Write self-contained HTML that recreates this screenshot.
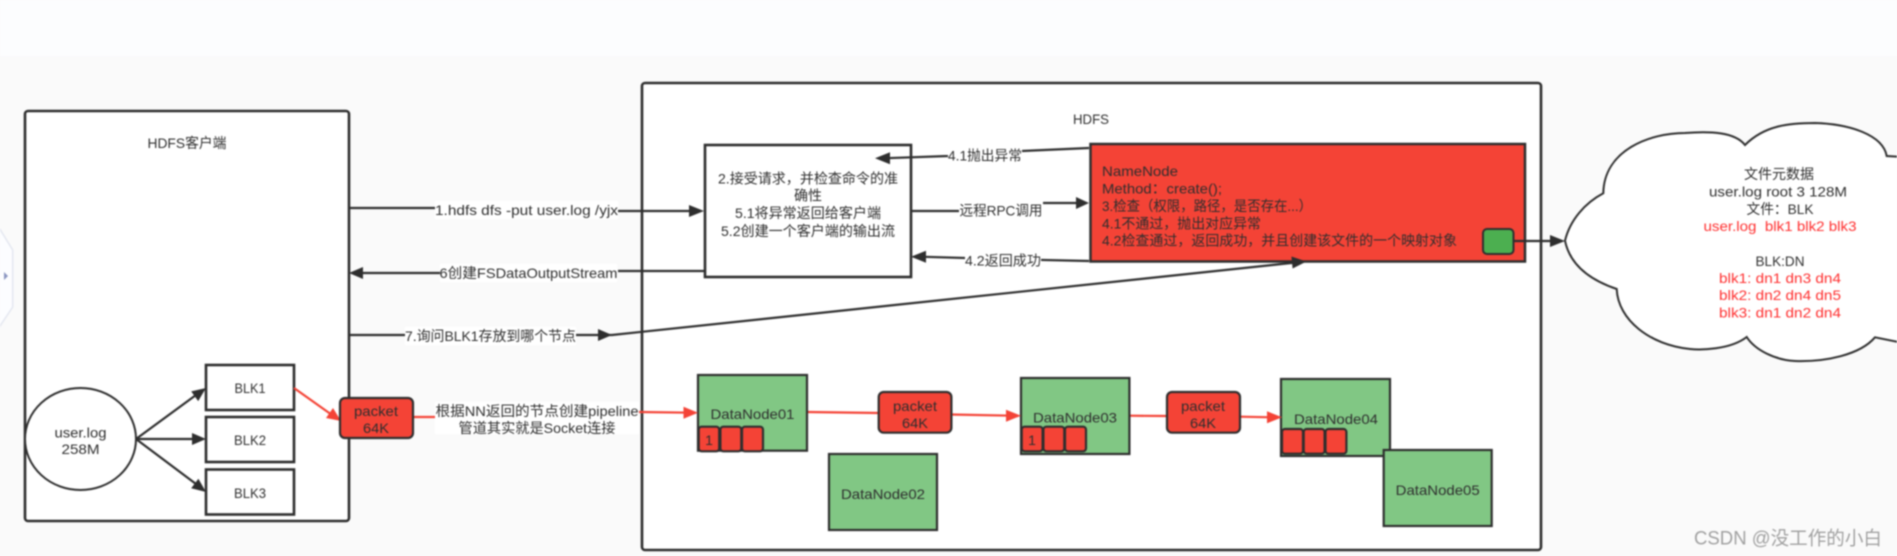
<!DOCTYPE html>
<html lang="zh">
<head>
<meta charset="utf-8">
<title>HDFS</title>
<style>
html,body{margin:0;padding:0;width:1897px;height:556px;overflow:hidden;background:#fafafa}
svg{display:block;position:absolute;left:0;top:0;filter:blur(0.7px)}
text{font-family:"Liberation Sans","Noto Sans CJK SC",sans-serif;font-size:14px;fill:#2e2e2e}
.m{text-anchor:middle}
.r{fill:#ff3030}
.box{stroke:#2e2e2e;stroke-width:2.6}
.l{stroke:#2e2e2e;stroke-width:2.2;fill:none}
.lr{stroke:#f44336;stroke-width:2.2;fill:none}
.ah{fill:#2e2e2e}
.ar{fill:#f44336}
.g{fill:#81c784;stroke:#2e2e2e;stroke-width:2.2}
.p{fill:#f44336;stroke:#2e2e2e;stroke-width:2.2}
.w{fill:#fff}
</style>
</head>
<body>
<svg width="1897" height="556" viewBox="0 0 1897 556" xmlns="http://www.w3.org/2000/svg">
<rect x="-5" y="-5" width="1907" height="566" fill="#fafafa"/>
<rect x="-5" y="-5" width="1907" height="61" fill="#fcfdfe"/>

<!-- side handle -->
<path d="M-2,226 L12.7,250 L12.7,307 L-2,329 Z" fill="#fcfdff" stroke="#e4e7f0" stroke-width="1.5"/>
<polygon points="4,272 8,276 4,280" fill="#8a95c0"/>

<!-- containers -->
<rect x="25" y="111" width="324" height="410" rx="3" fill="#fff" class="box"/>
<text x="187" y="148" class="m" textLength="79" lengthAdjust="spacingAndGlyphs">HDFS客户端</text>
<rect x="642" y="83" width="899" height="467" rx="3" fill="#fff" class="box"/>
<text x="1091" y="124" class="m" textLength="36" lengthAdjust="spacingAndGlyphs">HDFS</text>

<!-- cloud -->
<path d="M1565,240.7 C1570,220 1585,203 1603.3,193.3 C1604,150 1650,133 1685,133 C1710,131 1735,132 1745,145 C1765,125 1790,123 1815,123 C1850,124 1883,135 1886.7,156 L1903,157 L1903,343 L1875,337.3 C1860,355 1825,362 1795,361 C1775,360 1755,350 1746.7,337 C1730,350 1700,350 1690,349 C1650,345 1618,320 1616.7,289 C1590,280 1570,265 1565,240.7 Z" fill="#fff" stroke="#2e2e2e" stroke-width="2"/>
<text x="1779" y="179" class="m" textLength="70" lengthAdjust="spacingAndGlyphs">文件元数据</text>
<text x="1778" y="196.5" class="m" textLength="138" lengthAdjust="spacingAndGlyphs">user.log root 3 128M</text>
<text x="1780" y="214" class="m" textLength="67" lengthAdjust="spacingAndGlyphs">文件&#xFF1A;BLK</text>
<text x="1780" y="231" class="m r" textLength="153" lengthAdjust="spacingAndGlyphs">user.log&#160;&#160;blk1 blk2 blk3</text>
<text x="1780" y="266" class="m" textLength="49" lengthAdjust="spacingAndGlyphs">BLK:DN</text>
<text x="1780" y="283" class="m r" textLength="122" lengthAdjust="spacingAndGlyphs">blk1: dn1 dn3 dn4</text>
<text x="1780" y="300" class="m r" textLength="122" lengthAdjust="spacingAndGlyphs">blk2: dn2 dn4 dn5</text>
<text x="1780" y="317.5" class="m r" textLength="122" lengthAdjust="spacingAndGlyphs">blk3: dn1 dn2 dn4</text>

<!-- black connectors -->
<line x1="349" y1="208" x2="435" y2="208" class="l"/>
<line x1="618" y1="211" x2="692" y2="211" class="l"/>
<polygon points="704,211 689,205 689,217" class="ah"/>
<line x1="704" y1="271" x2="618" y2="271" class="l"/>
<line x1="440" y1="273" x2="360" y2="273" class="l"/>
<polygon points="349,273 363,267 363,279" class="ah"/>
<polyline points="349,335 612,335 1296,262.5" class="l"/>
<polygon points="612,335 598,329 598,341" class="ah"/>
<polyline points="911,211 1000,211 1000,203 1080,203" class="l"/>
<polygon points="1089,203 1076,197 1076,209" class="ah"/>
<polyline points="1089,261 1000,259 920,256.7" class="l"/>
<polygon points="911,256.7 926,250.7 926,262.7" class="ah"/>

<!-- box 2 -->
<rect x="705" y="145" width="206" height="132" fill="#fff" class="box"/>
<text x="808" y="183.5" class="m" textLength="180" lengthAdjust="spacingAndGlyphs">2.接受请求&#xFF0C;并检查命令的准</text>
<text x="808" y="200.5" class="m" textLength="28" lengthAdjust="spacingAndGlyphs">确性</text>
<text x="808" y="218" class="m" textLength="146" lengthAdjust="spacingAndGlyphs">5.1将异常返回给客户端</text>
<text x="808" y="236" class="m" textLength="174" lengthAdjust="spacingAndGlyphs">5.2创建一个客户端的输出流</text>

<!-- 4.1 arrow lands inside box 2 -->
<polyline points="1089,148 1000,152 948,156 883,158.3" class="l"/>
<polygon points="875,158.3 890,152.3 890,164.3" class="ah"/>

<!-- connector labels -->
<rect x="435" y="201" width="183" height="18" class="w"/>
<text x="526.5" y="215" class="m" textLength="183" lengthAdjust="spacingAndGlyphs">1.hdfs dfs -put user.log /yjx</text>
<rect x="440" y="264" width="177" height="18" class="w"/>
<text x="528.5" y="278" class="m" textLength="178" lengthAdjust="spacingAndGlyphs">6创建FSDataOutputStream</text>
<rect x="405" y="327" width="171" height="18" class="w"/>
<text x="490.5" y="341" class="m" textLength="171" lengthAdjust="spacingAndGlyphs">7.询问BLK1存放到哪个节点</text>
<rect x="948" y="147" width="74" height="18" class="w"/>
<text x="985" y="160.5" class="m" textLength="74" lengthAdjust="spacingAndGlyphs">4.1抛出异常</text>
<rect x="959" y="201" width="84" height="18" class="w"/>
<text x="1001" y="215.5" class="m" textLength="83" lengthAdjust="spacingAndGlyphs">远程RPC调用</text>
<rect x="965" y="252" width="76" height="18" class="w"/>
<text x="1003" y="265.5" class="m" textLength="76" lengthAdjust="spacingAndGlyphs">4.2返回成功</text>

<!-- NameNode -->
<rect x="1090.5" y="144" width="434.5" height="117.5" class="p" style="stroke-width:2.5"/>
<text x="1102" y="176" textLength="76" lengthAdjust="spacingAndGlyphs">NameNode</text>
<text x="1102" y="193.3" textLength="120" lengthAdjust="spacingAndGlyphs">Method&#xFF1A;create();</text>
<text x="1102" y="211" textLength="210" lengthAdjust="spacingAndGlyphs">3.检查&#xFF08;权限&#xFF0C;路径&#xFF0C;是否存在...&#xFF09;</text>
<text x="1102" y="228.3" textLength="159" lengthAdjust="spacingAndGlyphs">4.1不通过&#xFF0C;抛出对应异常</text>
<text x="1102" y="245.7" textLength="355" lengthAdjust="spacingAndGlyphs">4.2检查通过&#xFF0C;返回成功&#xFF0C;并且创建该文件的一个映射对象</text>
<rect x="1483" y="229" width="30.5" height="25" rx="4" fill="#4caf50" stroke="#2e2e2e" stroke-width="2"/>
<line x1="1513.5" y1="241" x2="1555" y2="241" class="l"/>
<polygon points="1565,241 1550,235 1550,247" class="ah"/>
<polygon points="1306.5,261.5 1291.4,256.5 1292.6,268.5" class="ah"/>

<!-- client contents -->
<ellipse cx="80.5" cy="439" rx="55.5" ry="51" fill="#fff" stroke="#2e2e2e" stroke-width="2"/>
<text x="80.5" y="437.5" class="m" textLength="52" lengthAdjust="spacingAndGlyphs">user.log</text>
<text x="80.5" y="454" class="m" textLength="38" lengthAdjust="spacingAndGlyphs">258M</text>
<rect x="206" y="365" width="88" height="45" fill="#fff" class="box"/>
<text x="250" y="393" class="m" textLength="31" lengthAdjust="spacingAndGlyphs">BLK1</text>
<rect x="206" y="417" width="88" height="45" fill="#fff" class="box"/>
<text x="250" y="445" class="m" textLength="32" lengthAdjust="spacingAndGlyphs">BLK2</text>
<rect x="206" y="469.5" width="88" height="45" fill="#fff" class="box"/>
<text x="250" y="498" class="m" textLength="32" lengthAdjust="spacingAndGlyphs">BLK3</text>
<line x1="136" y1="439" x2="196" y2="395" class="l"/>
<polygon points="206,388 198.2,401.1 191.2,391.4" class="ah"/>
<line x1="136" y1="439" x2="195" y2="439" class="l"/>
<polygon points="206,439 192,433 192,445" class="ah"/>
<line x1="136" y1="439" x2="196" y2="484" class="l"/>
<polygon points="206,492 191.2,488.3 198.4,478.7" class="ah"/>

<!-- red connectors -->
<line x1="294" y1="388" x2="332" y2="415" class="lr"/>
<polygon points="341,421 326,418 333,408" class="ar"/>
<line x1="413" y1="417" x2="436" y2="417" class="lr"/>
<rect x="435" y="402" width="204" height="32" class="w"/>
<text x="537" y="416" class="m" textLength="203" lengthAdjust="spacingAndGlyphs">根据NN返回的节点创建pipeline</text>
<text x="537" y="433" class="m" textLength="157" lengthAdjust="spacingAndGlyphs">管道其实就是Socket连接</text>
<line x1="639" y1="412" x2="690" y2="412.7" class="lr"/>
<line x1="807" y1="412" x2="879" y2="413" class="lr"/>
<line x1="951" y1="414.5" x2="1012" y2="415.7" class="lr"/>
<line x1="1129" y1="415.7" x2="1167" y2="416" class="lr"/>
<line x1="1240" y1="416.7" x2="1272" y2="417.3" class="lr"/>

<!-- packet 1 -->
<rect x="340" y="398" width="73" height="40" rx="5" class="p"/>
<text x="376" y="416" class="m" textLength="44" lengthAdjust="spacingAndGlyphs">packet</text>
<text x="376" y="433" class="m" textLength="26" lengthAdjust="spacingAndGlyphs">64K</text>

<!-- data nodes -->
<rect x="698" y="375" width="109" height="75.7" class="g"/>
<text x="752.5" y="419" class="m" textLength="84" lengthAdjust="spacingAndGlyphs">DataNode01</text>
<rect x="698.7" y="426.7" width="20.5" height="24.6" rx="3" class="p"/>
<rect x="720.4" y="426.7" width="20.9" height="24.6" rx="3" class="p"/>
<rect x="742" y="426.7" width="21" height="24.6" rx="3" class="p"/>
<text x="709" y="445" class="m">1</text>
<polygon points="698,412.7 683.5,406.7 683.5,418.7" class="ar"/>

<rect x="878.7" y="392" width="72.7" height="40.7" rx="5" class="p"/>
<text x="915" y="411" class="m" textLength="44" lengthAdjust="spacingAndGlyphs">packet</text>
<text x="915" y="428" class="m" textLength="26" lengthAdjust="spacingAndGlyphs">64K</text>

<rect x="1021" y="378" width="108.4" height="76" class="g"/>
<text x="1075" y="422.7" class="m" textLength="84" lengthAdjust="spacingAndGlyphs">DataNode03</text>
<rect x="1021.7" y="426.7" width="20.9" height="24.6" rx="3" class="p"/>
<rect x="1043.4" y="426.7" width="20.9" height="24.6" rx="3" class="p"/>
<rect x="1065" y="426.7" width="21" height="24.6" rx="3" class="p"/>
<text x="1032" y="445" class="m">1</text>
<polygon points="1021,415.7 1006,409.7 1006,421.7" class="ar"/>

<rect x="1167" y="392" width="73" height="40.7" rx="5" class="p"/>
<text x="1203" y="411" class="m" textLength="44" lengthAdjust="spacingAndGlyphs">packet</text>
<text x="1203" y="428" class="m" textLength="26" lengthAdjust="spacingAndGlyphs">64K</text>

<rect x="829" y="454" width="108" height="76" class="g"/>
<text x="883" y="499" class="m" textLength="84" lengthAdjust="spacingAndGlyphs">DataNode02</text>

<rect x="1281" y="379" width="109" height="77" class="g"/>
<text x="1336" y="424" class="m" textLength="84" lengthAdjust="spacingAndGlyphs">DataNode04</text>
<rect x="1282" y="429" width="21" height="24.7" rx="3" class="p"/>
<rect x="1303.7" y="429" width="20.9" height="24.7" rx="3" class="p"/>
<rect x="1325.5" y="429" width="20.9" height="24.7" rx="3" class="p"/>
<polygon points="1282,417.3 1267,411.3 1267,423.3" class="ar"/>

<rect x="1383.7" y="450" width="108" height="76" class="g"/>
<text x="1437.7" y="495" class="m" textLength="84" lengthAdjust="spacingAndGlyphs">DataNode05</text>

<!-- watermark -->
<text x="1694" y="544.5" textLength="188" lengthAdjust="spacingAndGlyphs" style="font-size:19px;fill:#a0a0a0">CSDN @没工作的小白</text>
</svg>
</body>
</html>
